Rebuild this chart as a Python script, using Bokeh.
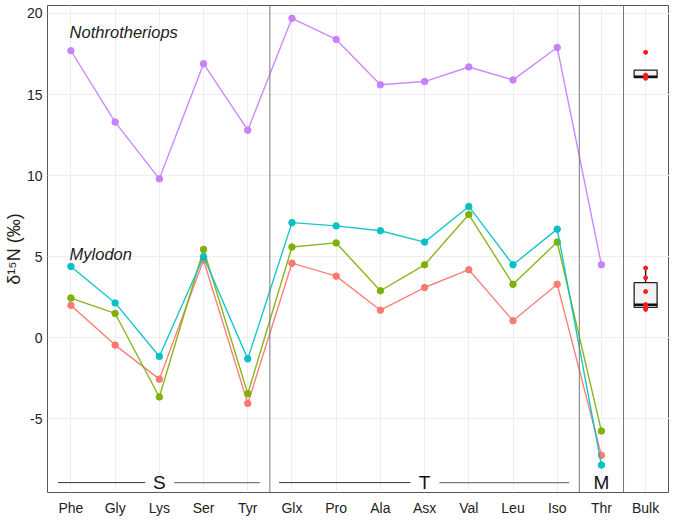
from bokeh.plotting import figure
from bokeh.models import Range1d, FixedTicker, Span, ColumnDataSource, Label
from bokeh.embed import file_html
from bokeh.resources import INLINE
from bokeh.core.properties import value

# ---------------- data ----------------
categories = ["Phe", "Gly", "Lys", "Ser", "Tyr", "Glx", "Pro", "Ala", "Asx",
              "Val", "Leu", "Iso", "Thr", "Bulk"]
amino_acids = categories[:13]

nothrotheriops = [17.7, 13.3, 9.8, 16.9, 12.8, 19.7, 18.4, 15.6, 15.8, 16.7, 15.9, 17.9, 4.5]
mylodon_a = [2.0, -0.45, -2.55, 4.8, -4.05, 4.6, 3.8, 1.7, 3.1, 4.2, 1.05, 3.3, -7.25]   # salmon
mylodon_b = [2.45, 1.5, -3.65, 5.45, -3.45, 5.6, 5.85, 2.9, 4.5, 7.6, 3.3, 5.9, -5.75]   # green
mylodon_c = [4.4, 2.15, -1.15, 5.0, -1.3, 7.1, 6.9, 6.6, 5.9, 8.1, 4.5, 6.7, -7.85]     # teal

series_values = [mylodon_a, mylodon_b, mylodon_c, nothrotheriops]
series_colors = ["#F8766D", "#7CAE00", "#00BFC4", "#C77CFF"]

# bulk collagen values and their box statistics
bulk_nothro_points = [17.6, 16.2, 16.1, 16.0]
bulk_nothro_box = dict(lo=16.0, q1=16.05, med=16.1, q3=16.5, hi=16.5)
bulk_mylo_points = [4.3, 3.7, 2.85, 2.05, 1.85, 1.75]
bulk_mylo_box = dict(lo=1.75, q1=1.87, med=2.03, q3=3.4, hi=4.3)

# groups of amino acids (index of first and last member)
groups = ["S", "T", "M"]
group_start = [0, 5, 12]
group_end = [4, 11, 12]

y_ticks = [-5, 0, 5, 10, 15, 20]

# ---------------- figure ----------------
p = figure(width=669, height=518, output_backend="svg", toolbar_location=None,
           x_range=Range1d(-0.53, 13.54), y_range=Range1d(-9.54, 20.49),
           min_border_left=30, min_border_right=0, min_border_top=5,
           min_border_bottom=20)
p.background_fill_color = "white"
p.border_fill_color = "white"
p.outline_line_color = "#555555"
p.outline_line_width = 1

font = "Liberation Sans"

p.xaxis.ticker = FixedTicker(ticks=list(range(len(categories))))
p.xaxis.major_label_overrides = {i: c for i, c in enumerate(categories)}
p.yaxis.ticker = FixedTicker(ticks=y_ticks)
p.yaxis.major_label_overrides = {t: str(t) for t in y_ticks}
for ax in (p.xaxis, p.yaxis):
    ax.axis_line_color = None
    ax.major_tick_line_color = None
    ax.minor_tick_line_color = None
    ax.major_tick_out = 0
    ax.major_tick_in = 0
    ax.minor_tick_out = 0
    ax.major_label_text_font = font
    ax.major_label_text_font_size = "14px"
    ax.major_label_text_color = "#222222"
p.xaxis.major_label_standoff = 7
p.yaxis.major_label_standoff = 5
p.yaxis.axis_label = "δ¹⁵N (‰)"
p.yaxis.axis_label_text_font = font
p.yaxis.axis_label_text_font_size = "18px"
p.yaxis.axis_label_text_font_style = "normal"
p.yaxis.axis_label_text_color = "#222222"
p.yaxis.axis_label_standoff = 0

p.xgrid.grid_line_color = "#EEEEEE"
p.ygrid.grid_line_color = "#EEEEEE"
p.xgrid.grid_line_width = 1
p.ygrid.grid_line_width = 1

# separators between groups
for i in range(1, len(group_start)):
    p.add_layout(Span(location=(group_end[i - 1] + group_start[i]) / 2, dimension="height",
                      line_color="#777777", line_width=1))
p.add_layout(Span(location=(group_end[-1] + len(categories) - 1) / 2, dimension="height",
                  line_color="#777777", line_width=1))

# series
xs = list(range(len(amino_acids)))
for vals, col in zip(series_values, series_colors):
    src = ColumnDataSource(dict(x=xs, y=vals))
    p.line("x", "y", source=src, line_color=col, line_width=1.4, line_alpha=0.9)
    p.scatter("x", "y", source=src, size=6.5, fill_color=col, line_color=col, alpha=0.95)

# bulk boxplots
bx = len(categories) - 1
hw = 0.26
for box, pts in ((bulk_nothro_box, bulk_nothro_points), (bulk_mylo_box, bulk_mylo_points)):
    p.segment(x0=[bx, bx], y0=[box["q3"], box["lo"]], x1=[bx, bx], y1=[box["hi"], box["q1"]],
              line_color="#222222", line_width=1.5)
    p.quad(left=[bx - hw], right=[bx + hw], bottom=[box["q1"]], top=[box["q3"]],
           fill_color="#F2F2F2", line_color="#222222", line_width=1.3)
    p.segment(x0=[bx - hw], y0=[box["med"]], x1=[bx + hw], y1=[box["med"]],
              line_color="#111111", line_width=2.5)
    p.scatter(x=[bx] * len(pts), y=pts, size=4, fill_color="#FF1A1A", line_color="#FF1A1A")

# group labels at the bottom
gy = -8.93
gap = 0.32
for g, s, e in zip(groups, group_start, group_end):
    c = (s + e) / 2
    p.text(x=[c], y=[gy], text=[g], text_font=value(font), text_font_size="19px",
           text_align="center", text_baseline="middle", text_color="#111111")
    if e > s:
        p.segment(x0=[s - 0.29], y0=[gy], x1=[c - gap], y1=[gy], line_color="#333333", line_width=1)
        p.segment(x0=[c + gap * 1.05], y0=[gy], x1=[e + 0.27], y1=[gy], line_color="#777777", line_width=1.2)

# taxon labels
p.add_layout(Label(x=-0.03, y=18.85, text="Nothrotheriops", text_font=font, text_font_size="16.5px",
                   text_font_style="italic", text_baseline="middle", text_color="#222222"))
p.add_layout(Label(x=-0.03, y=5.15, text="Mylodon", text_font=font, text_font_size="16.5px",
                   text_font_style="italic", text_baseline="middle", text_color="#222222"))

open("out.html", "w").write(file_html(p, INLINE))
